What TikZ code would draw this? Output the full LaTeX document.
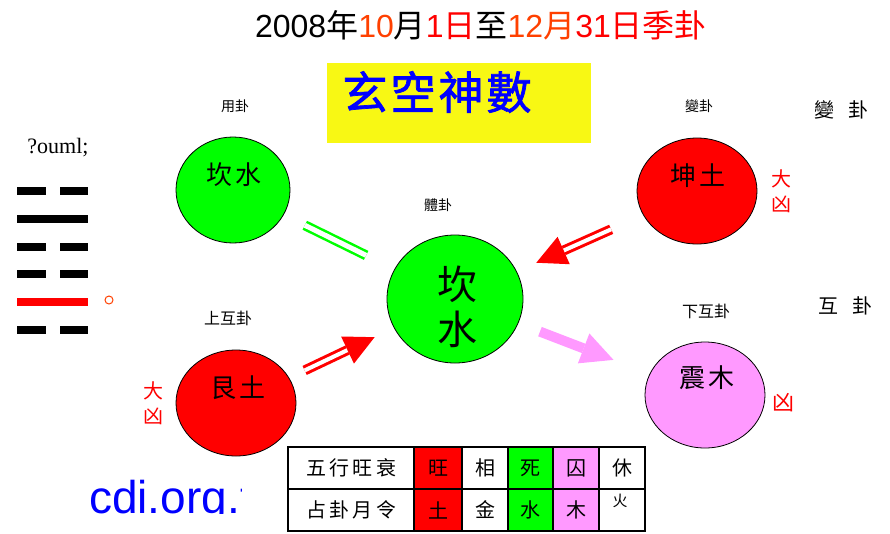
\documentclass[tikz,border=0pt]{standalone}
\usepackage{fontspec}
\setmainfont{Liberation Sans}
\newfontfamily\cjk{Noto Sans CJK TC}
\newfontfamily\cjkheavy[FakeBold=1.6]{Noto Sans CJK TC}
\newfontfamily\timesfont{Liberation Serif}
\usetikzlibrary{shapes.geometric,arrows.meta}
\definecolor{hot}{RGB}{255,64,0}
\definecolor{muPink}{RGB}{255,153,255}
\definecolor{boxYellow}{RGB}{248,248,20}
\newcommand\fsz[1]{\fontsize{#1}{#1}\selectfont}

\begin{document}
\begin{tikzpicture}[x=1pt, y=-1pt,
	gua/.style={draw=black, line width=0.8pt, ellipse, inner sep=0pt, minimum width=120pt, minimum height=106pt},
	guaname/.style={inner sep=0pt, font=\cjk\fsz{26}},
	small/.style={inner sep=0pt, font=\cjk\fsz{14}},
	mid/.style={inner sep=0pt, font=\cjk\fsz{20}},
	xiong/.style={inner sep=0pt, red, align=center, font=\cjk\fontsize{20}{25}\selectfont},
	redarrow/.style={draw=red, double=white, double distance=4pt, line width=3pt,
		-{Triangle[length=30pt, width=30pt, line width=0pt]}},
	cell/.style={inner sep=0pt, font=\cjk\fsz{20}}]

	\useasboundingbox (0,0) rectangle (890,533);

	% title
	\node[inner sep=0pt, font=\fsz{32}] (title) at (481,25)
		{2008{\cjk 年}\textcolor{hot}{10}{\cjk 月}\textcolor{red}{1{\cjk 日}}{\cjk 至}%
		\textcolor{hot}{12{\cjk 月}}\textcolor{red}{31{\cjk 日季卦}}};

	\fill[boxYellow] (327,63) rectangle (591,143);
	\node[inner sep=0pt, blue, font=\cjkheavy\fsz{45}] (xuankong) at (437,92)
		{玄\hspace{3pt}空\hspace{3pt}神\hspace{3pt}數};

	% hexagram
	\node[inner sep=0pt, font=\timesfont\fsz{22}] (ouml) at (58,148) {?ouml;};
	\foreach \y in {190.5, 247, 274, 330} {
		\fill (16.5,\y-4) rectangle (45.5,\y+4);
		\fill (59.5,\y-4) rectangle (87.5,\y+4);
	}
	\fill (16.5,215) rectangle (87.5,223);
	\fill[red] (16.5,298) rectangle (87.5,306);
	\draw[hot, line width=1pt] (109,300) circle (4pt);

	% gua circles
	\node[gua, fill=green, minimum width=114pt] (yong) at (233,190) {};
	\node[gua, fill=green, minimum width=136pt, minimum height=128pt] (ti) at (455,299) {};
	\node[gua, fill=red] (bian) at (697,191) {};
	\node[gua, fill=red] (shang) at (236,403) {};
	\node[gua, fill=muPink] (xia) at (705,395) {};

	\node[guaname] (yongt) at (234,175) {坎\hspace{3pt}水};
	\node[guaname] (biant) at (698,176) {坤\hspace{3pt}土};
	\node[guaname] (shangt) at (238,388) {艮\hspace{3pt}土};
	\node[guaname] (xiat) at (707,378) {震\hspace{3pt}木};
	\node[inner sep=0pt, align=center, font=\cjk\fontsize{40}{45}\selectfont] (tit) at (457,307) {坎\\水};

	\node[small] (yongl) at (235,106) {用卦};
	\node[small] (til) at (438,205) {體卦};
	\node[small] (bianl) at (699,106) {變卦};
	\node[small, font=\cjk\fsz{16}] (shangl) at (228,318) {上互卦};
	\node[small, font=\cjk\fsz{16}] (xial) at (706,311) {下互卦};
	\node[mid] (bianr) at (841,110) {變\hspace{14pt}卦};
	\node[mid] (hur) at (845,306) {互\hspace{14pt}卦};

	\node[xiong] (xiong1) at (781,191) {大\\凶};
	\node[xiong] (xiong2) at (153,403) {大\\凶};
	\node[xiong, font=\cjk\fsz{22}] (xiong3) at (783,403) {凶};

	% connectors
	\draw[green, double=white, double distance=5pt, line width=2.5pt,
		shorten <=80pt, shorten >=99pt] (yong.center) -- (ti.center);
	\draw[redarrow, shorten <=94pt, shorten >=89pt] (bian.center) -- (ti.center);
	\draw[redarrow, shorten <=76pt, shorten >=89pt] (shang.center) -- (ti.center);
	\draw[muPink, line width=10pt, -{Triangle[length=32pt, width=32pt, line width=0pt]},
		shorten <=91pt, shorten >=98pt] (ti.center) -- (xia.center);

	% site name
	\begin{scope}
		\clip (80,470) rectangle (241,513.5);
		\node[inner sep=0pt, anchor=base west, blue, font=\fsz{46}] (site) at (89,513) {cdi.org.tw};
	\end{scope}

	% table
	\fill[red] (414,447) rectangle (462,531);
	\fill[green] (508,447) rectangle (553,531);
	\fill[muPink] (553,447) rectangle (599,531);
	\draw[line width=1.2pt] (288,447) rectangle (645,531);
	\draw[line width=1.2pt] (288,489) -- (645,489);
	\foreach \x in {414, 462, 508, 553, 599}
		\draw[line width=1.2pt] (\x,447) -- (\x,531);
	\node[cell] (row1) at (351,468) {五\,行\,旺\,衰};
	\node[cell] (row2) at (351,510) {占\,卦\,月\,令};
	\foreach \x/\a/\b [count=\i] in {438/旺/土, 485/相/金, 530.5/死/水, 576/囚/木} {
		\node[cell] (a\i) at (\x,468) {\a};
		\node[cell] (b\i) at (\x,510) {\b};
	}
	\node[cell] (a5) at (622,468) {休};
	\node[cell, font=\cjk\fsz{15}] (b5) at (620,501) {火};
\end{tikzpicture}
\end{document}
